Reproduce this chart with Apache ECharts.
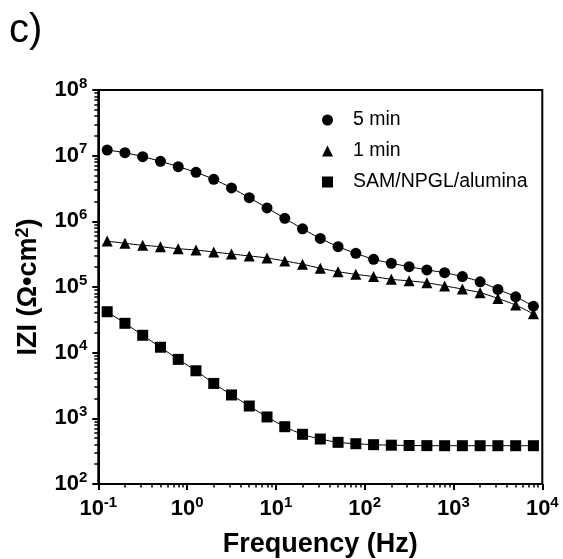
<!DOCTYPE html>
<html>
<head>
<meta charset="utf-8">
<script src="https://cdn.jsdelivr.net/npm/echarts@6/dist/echarts.min.js"></script>
<style>html,body{margin:0;padding:0;background:#fff}#c{width:563px;height:559px}</style>
</head>
<body>
<div id="c"></div>
<script>
const freqs = [0.1259, 0.1995, 0.3162, 0.5012, 0.7943, 1.259, 1.995, 3.162, 5.012, 7.943,
  12.59, 19.95, 31.62, 50.12, 79.43, 125.9, 199.5, 316.2, 501.2, 794.3,
  1259, 1995, 3162, 5012, 7943];
const min5 = [1.22e7, 1.11e7, 9.66e6, 8.2e6, 6.8e6, 5.57e6, 4.37e6, 3.22e6, 2.29e6, 1.6e6,
  1.11e6, 7.7e5, 5.5e5, 4.11e5, 3.26e5, 2.64e5, 2.3e5, 2.04e5, 1.82e5, 1.65e5,
  1.44e5, 1.2e5, 9.2e4, 7.1e4, 5.1e4];
const min1 = [5.0e5, 4.63e5, 4.32e5, 4.11e5, 3.83e5, 3.66e5, 3.41e5, 3.18e5, 2.97e5, 2.77e5,
  2.49e5, 2.22e5, 1.93e5, 1.71e5, 1.56e5, 1.44e5, 1.31e5, 1.24e5, 1.16e5, 1.04e5,
  9.3e4, 8.2e4, 6.7e4, 5.3e4, 3.9e4];
const samNpgl = [4.2e4, 2.8e4, 1.84e4, 1.21e4, 7.9e3, 5.3e3, 3.4e3, 2.27e3, 1.54e3, 1.05e3,
  746, 571, 484, 431, 411, 397, 390, 386, 384, 383,
  383, 383, 383, 383, 383];
const seriesNames = ['5 min', '1 min', 'SAM/NPGL/alumina'];
const seriesSymbols = ['circle', 'triangle', 'rect'];
const xMajorTicks = [0.1, 1, 10, 100, 1000, 10000];
const yMajorTicks = [1e2, 1e3, 1e4, 1e5, 1e6, 1e7, 1e8];
const minorMultipliers = [2, 3, 4, 5, 6, 7, 8, 9];

// minor tick positions expressed as log10 exponents (for a linear helper axis)
function minorExponents(majors) {
  const out = [];
  for (let i = 0; i < majors.length - 1; i++) {
    for (const m of minorMultipliers) out.push(Math.log10(m * majors[i]));
  }
  return out;
}

const FONT = 'Liberation Sans, Arial, sans-serif';
const powLabel = v => '{b|10}{s|' + Math.round(Math.log10(v)) + '}';
const richPow = {
  b: {fontSize: 22, fontWeight: 'bold', fontFamily: FONT, color: '#000', verticalAlign: 'bottom', lineHeight: 22},
  s: {fontSize: 15, fontWeight: 'bold', fontFamily: FONT, color: '#000', verticalAlign: 'bottom', lineHeight: 15, padding: [0, 0, 10, 0]}
};

const chart = echarts.init(document.getElementById('c'), null, {renderer: 'canvas'});
const allData = [min5, min1, samNpgl];
const lx = Math.log10(xMajorTicks[0]), hx = Math.log10(xMajorTicks[xMajorTicks.length - 1]);
const ly = Math.log10(yMajorTicks[0]), hy = Math.log10(yMajorTicks[yMajorTicks.length - 1]);

const option = {
  animation: false,
  backgroundColor: '#fff',
  textStyle: {fontFamily: FONT},
  grid: {left: 98.3, right: 20.7, top: 90, bottom: 75, outerBoundsMode: 'none', containLabel: false,
    show: true, borderColor: '#000', borderWidth: 2, backgroundColor: 'transparent'},
  graphic: [{type: 'text', left: 9, top: 11, style: {text: 'c)', font: '40px ' + FONT, fill: '#000'}}],
  legend: {
    orient: 'vertical', left: 317, top: 105, itemWidth: 11, itemHeight: 11, itemGap: 11,
    textStyle: {fontSize: 19.5, fontFamily: FONT, color: '#000', padding: [0, 0, 0, 15], lineHeight: 19},
    data: seriesNames.map((n, i) => ({name: n, icon: seriesSymbols[i]}))
  },
  xAxis: [{
    type: 'log', logBase: 10, min: xMajorTicks[0], max: xMajorTicks[xMajorTicks.length - 1],
    name: 'Frequency (Hz)', nameLocation: 'middle', nameGap: 47,
    nameTextStyle: {fontSize: 27, fontWeight: 'bold', color: '#000', fontFamily: FONT},
    axisLine: {onZero: false, lineStyle: {color: '#000', width: 2}},
    axisTick: {show: true, length: 6, lineStyle: {color: '#000', width: 2}},
    axisLabel: {margin: 14, color: '#000', formatter: powLabel, rich: richPow},
    splitLine: {show: false}
  }, {
    type: 'value', min: lx, max: hx, position: 'bottom', offset: 0,
    axisLine: {show: false, onZero: false},
    axisTick: {show: true, length: 3.5, lineStyle: {color: '#000', width: 1.5}, customValues: minorExponents(xMajorTicks)},
    axisLabel: {show: false},
    splitLine: {show: false}
  }],
  yAxis: [{
    type: 'log', logBase: 10, min: yMajorTicks[0], max: yMajorTicks[yMajorTicks.length - 1],
    name: 'IZI (Ω•cm{sup|2})', nameLocation: 'middle', nameGap: 55, nameRotate: 90,
    nameTextStyle: {fontSize: 27, fontWeight: 'bold', color: '#000', fontFamily: FONT,
      rich: {sup: {fontSize: 18, fontWeight: 'bold', fontFamily: FONT, color: '#000', padding: [0, 0, 11, 0], verticalAlign: 'bottom'}}},
    axisLine: {onZero: false, lineStyle: {color: '#000', width: 2}},
    axisTick: {show: true, length: 6, lineStyle: {color: '#000', width: 2}},
    axisLabel: {margin: 11, color: '#000', formatter: powLabel, rich: richPow},
    splitLine: {show: false}
  }, {
    type: 'value', min: ly, max: hy, position: 'left', offset: 0,
    axisLine: {show: false, onZero: false},
    axisTick: {show: true, length: 4, lineStyle: {color: '#000', width: 1.5}, customValues: minorExponents(yMajorTicks)},
    axisLabel: {show: false},
    splitLine: {show: false}
  }],
  series: seriesNames.map((n, i) => ({
    name: n, type: 'line', xAxisIndex: 0, yAxisIndex: 0,
    data: freqs.map((f, j) => [f, allData[i][j]]),
    smooth: 0.3, symbol: seriesSymbols[i], symbolSize: 11,
    itemStyle: {color: '#000'}, lineStyle: {color: '#000', width: 1}
  }))
};
chart.setOption(option);
</script>
</body>
</html>
